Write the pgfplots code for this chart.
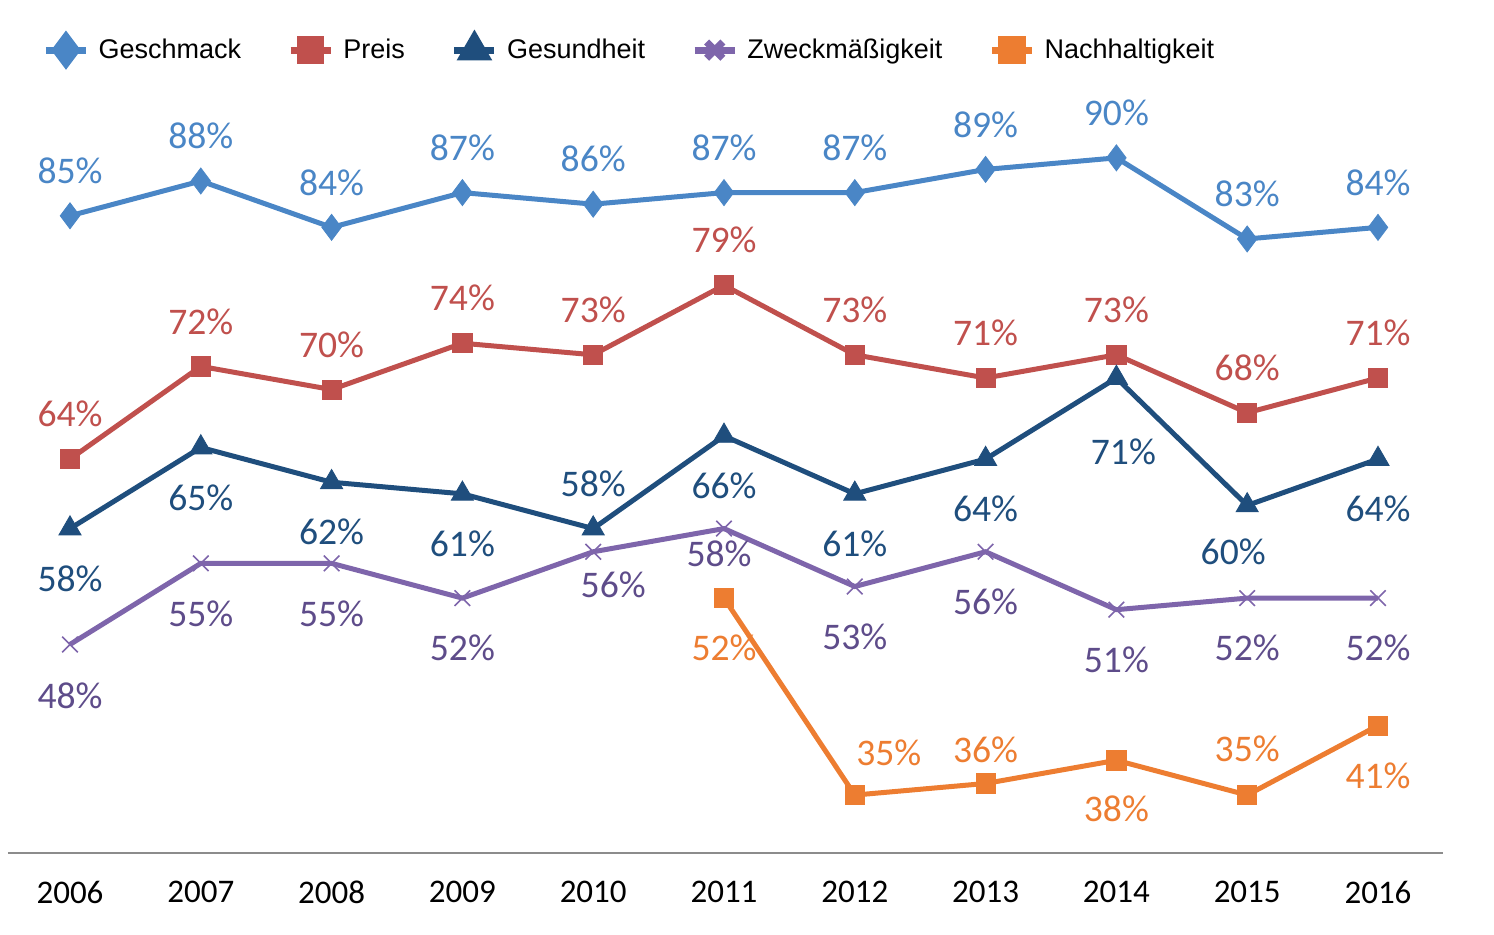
\documentclass[border=0pt]{standalone}
\usepackage{pgfplots}
\usepackage{pgfplotstable}
\pgfplotsset{compat=1.18}
\usepackage{fontspec}
\setmainfont{Carlito}
\newfontfamily\legfont{Liberation Sans}

\definecolor{cGe}{HTML}{4A86C6}
\definecolor{cPr}{HTML}{C0504D}
\definecolor{cGs}{HTML}{1F4E7D}
\definecolor{cZw}{HTML}{7E65AB}
\definecolor{cZwL}{HTML}{5E4C8A}
\definecolor{cNa}{HTML}{ED7D31}

\pgfplotstableread{
x y dx dy
2006 85 0 22.5
2007 88 0 22.5
2008 84 0 22.5
2009 87 0 22.5
2010 86 0 22.5
2011 87 0 22.5
2012 87 0 22.5
2013 89 0 22.5
2014 90 0 22.5
2015 83 0 22.5
2016 84 0 22.5
}\geschmack

\pgfplotstableread{
x y dx dy
2006 64 0 22.5
2007 72 0 22.5
2008 70 0 22.5
2009 74 0 22.5
2010 73 0 22.5
2011 79 0 22.5
2012 73 0 22.5
2013 71 0 22.5
2014 73 0 22.5
2015 68 0 22.5
2016 71 0 22.5
}\preis

\pgfplotstableread{
x y dx dy
2006 58 0 -25
2007 65 0 -25
2008 62 0 -25
2009 61 0 -25
2010 58 0 22.5
2011 66 0 -25
2012 61 0 -25
2013 64 0 -25
2014 71 3.5 -37
2015 60 -7 -23
2016 64 0 -25
}\gesundheit

\pgfplotstableread{
x y dx dy
2006 48 0 -25.5
2007 55 0 -25
2008 55 0 -25
2009 52 0 -25
2010 56 10 -16.5
2011 58 -2.5 -12.5
2012 53 0 -25
2013 56 0 -25
2014 51 0 -25
2015 52 0 -25
2016 52 0 -25
}\zweck

\pgfplotstableread{
x y dx dy
2011 52 0 -25
2012 35 17 21
2013 36 0 17
2014 38 0 -24.5
2015 35 0 23
2016 41 0 -25
}\nachhalt

\begin{document}
\begin{tikzpicture}
\useasboundingbox (-4pt,-41pt) rectangle (743pt,426.5pt);
\begin{axis}[
  at={(0,0)}, anchor=south west,
  scale only axis,
  width=717.5pt, height=411.3pt,
  xmin=2005.526, xmax=2016.497,
  ymin=30, ymax=101,
  clip=false,
  /pgf/number format/assume math mode=true,
  axis x line*=bottom,
  axis y line=none,
  axis line style={-, draw=black!45, line width=1pt},
  xtick={2006,2007,2008,2009,2010,2011,2012,2013,2014,2015,2016},
  xticklabels={2006,2007,2008,2009,2010,2011,2012,2013,2014,2015,2016},
  major tick length=0pt,
  xticklabel style={anchor=center, yshift=-19.5pt, font=\fontsize{16.5}{18}\selectfont, text=black},
  point meta=y,
  nodes near coords={\pgfmathprintnumber[assume math mode=true]{\pgfplotspointmeta}\%},
  visualization depends on={\thisrow{dx} \as \dx},
  visualization depends on={\thisrow{dy} \as \dy},
  every node near coord/.append style={anchor=center, xshift=\dx pt, yshift=\dy pt, font=\fontsize{18.8}{20}\selectfont, inner sep=0pt},
  legend columns=5,
  legend style={at={(0.0195,0.976)}, anchor=west, draw=none, fill=none,
    font=\legfont\fontsize{13.5}{15}\selectfont,
    /tikz/every even column/.append style={column sep=18.5pt},
    nodes={inner xsep=4.5pt}},
  legend image code/.code={\draw[line width=3.6pt, mark repeat=2,mark phase=2, mark options={scale=1.05}] plot coordinates {(0pt,0pt)(10pt,0pt)(20pt,0pt)};},
]
\addplot[cGe, line width=2.5pt, mark=diamond*, mark size=6.5pt, mark options={solid, line width=0.4pt},
  every node near coord/.append style={text=cGe}] table[x=x,y=y] {\geschmack};
\addlegendentry{Geschmack}
\addplot[cPr, line width=2.5pt, mark=square*, mark size=4.8pt, mark options={solid, line width=0.4pt},
  every node near coord/.append style={text=cPr}] table[x=x,y=y] {\preis};
\addlegendentry{Preis}
\addplot[cGs, line width=2.5pt, mark=triangle*, mark size=6.4pt, mark options={solid, line width=0.4pt},
  every node near coord/.append style={text=cGs}] table[x=x,y=y] {\gesundheit};
\addlegendentry{Gesundheit}
\addplot[cZw, line width=2.5pt, mark=x, mark size=5.5pt, mark options={solid, line width=0.8pt},
  every node near coord/.append style={text=cZwL}] table[x=x,y=y] {\zweck};
\addlegendentry{Zweckmäßigkeit}
\addplot[cNa, line width=2.5pt, mark=square*, mark size=4.8pt, mark options={solid, line width=0.4pt},
  every node near coord/.append style={text=cNa}] table[x=x,y=y] {\nachhalt};
\addlegendentry{Nachhaltigkeit}
\end{axis}
\end{tikzpicture}
\end{document}
